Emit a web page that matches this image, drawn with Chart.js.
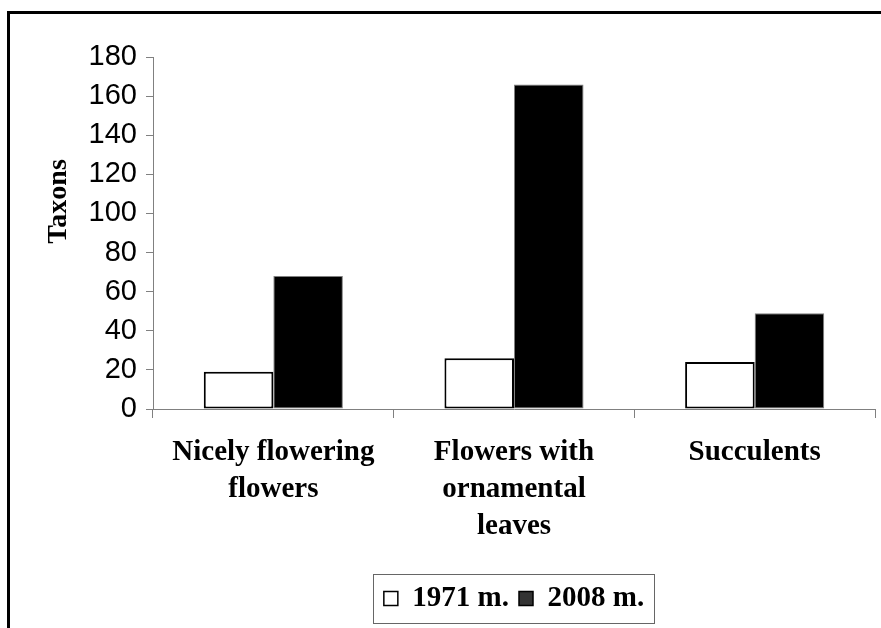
<!DOCTYPE html>
<html>
<head>
<meta charset="utf-8">
<script src="https://cdn.jsdelivr.net/npm/chart.js@4/dist/chart.umd.min.js"></script>
<style>
  html, body { margin: 0; padding: 0; background: #ffffff; }
  #wrap { position: relative; width: 881px; height: 628px; overflow: hidden; }
  #c { position: absolute; left: 0; top: 0; }
  #frame { position: absolute; left: 7px; top: 11px; width: 900px; height: 700px;
           border-left: 3px solid #000; border-top: 3px solid #000; pointer-events: none; }
</style>
</head>
<body>
<div id="wrap">
  <canvas id="c" width="881" height="628"></canvas>
  <div id="frame"></div>
</div>
<script>
const categories = [
  ['Nicely flowering', 'flowers'],
  ['Flowers with', 'ornamental', 'leaves'],
  ['Succulents']
];
const seriesNames = ['1971 m.', '2008 m.'];
const values1971 = [19, 26, 24];
const values2008 = [68, 166, 49];
const yTicks = [0, 20, 40, 60, 80, 100, 120, 140, 160, 180];
const yTitle = 'Taxons';

const serif = "'Liberation Serif', 'Times New Roman', serif";
const sans = "'Liberation Sans', Arial, sans-serif";
const legendFill = ['#ffffff', '#333333'];

const legendBorder = {
  id: 'legendBorder',
  afterDraw(chart) {
    const lg = chart.legend;
    if (!lg || !lg.legendHitBoxes || !lg.legendHitBoxes.length) return;
    const hb = lg.legendHitBoxes;
    let l = Infinity, r = -Infinity, cy = 0;
    hb.forEach(h => { l = Math.min(l, h.left); r = Math.max(r, h.left + h.width); cy += h.top + h.height / 2; });
    cy /= hb.length;
    const ctx = chart.ctx;
    ctx.save();
    ctx.strokeStyle = '#666666';
    ctx.lineWidth = 1;
    ctx.strokeRect(Math.round(l - 11) + 0.5, Math.round(cy - 24.5) + 0.5, Math.round(r - l + 21), 49);
    ctx.restore();
  }
};

new Chart(document.getElementById('c'), {
  type: 'bar',
  data: {
    labels: categories,
    datasets: [
      { label: seriesNames[0], data: values1971, backgroundColor: '#ffffff', borderColor: '#000000',
        borderWidth: 2, borderSkipped: false, categoryPercentage: 0.578, barPercentage: 1 },
      { label: seriesNames[1], data: values2008, backgroundColor: '#000000', borderColor: '#808080',
        borderWidth: 1, borderSkipped: false, categoryPercentage: 0.578, barPercentage: 1 }
    ]
  },
  options: {
    responsive: false,
    animation: false,
    devicePixelRatio: 1,
    layout: { padding: { left: 0, right: 6, top: 57, bottom: 5 } },
    plugins: {
      tooltip: { enabled: false },
      title: { display: false },
      legend: {
        position: 'bottom',
        fullSize: false,
        labels: {
          boxWidth: 14, boxHeight: 14, padding: 10, color: '#000',
          font: { family: serif, size: 29, weight: 'bold' },
          generateLabels: (chart) => chart.data.datasets.map((ds, i) => ({
            text: ds.label, fillStyle: legendFill[i], strokeStyle: '#000000', lineWidth: 1.5,
            hidden: false, datasetIndex: i, fontColor: '#000'
          }))
        }
      }
    },
    scales: {
      x: {
        grid: { display: true, drawOnChartArea: false, tickLength: 9, color: '#808080', offset: true },
        border: { display: true, color: '#808080', width: 1 },
        ticks: { color: '#000', padding: 16, maxRotation: 0, autoSkip: false,
                 font: { family: serif, size: 29, weight: 'bold', lineHeight: 1.276 } },
        afterFit: (s) => { s.height = 165; }
      },
      y: {
        min: 0, max: 180,
        afterBuildTicks: (s) => { s.ticks = yTicks.map(v => ({ value: v })); },
        grid: { display: true, drawOnChartArea: false, tickLength: 7, color: '#808080' },
        border: { display: true, color: '#808080', width: 1 },
        ticks: { color: '#000', padding: 9, font: { family: sans, size: 29 } },
        title: { display: true, text: '         ' + yTitle, color: '#000',
                 font: { family: serif, size: 28, weight: 'bold' }, padding: { top: 42, bottom: 0 } },
        afterFit: (s) => { s.width = 153; }
      }
    }
  },
  plugins: [legendBorder]
});
</script>
</body>
</html>
